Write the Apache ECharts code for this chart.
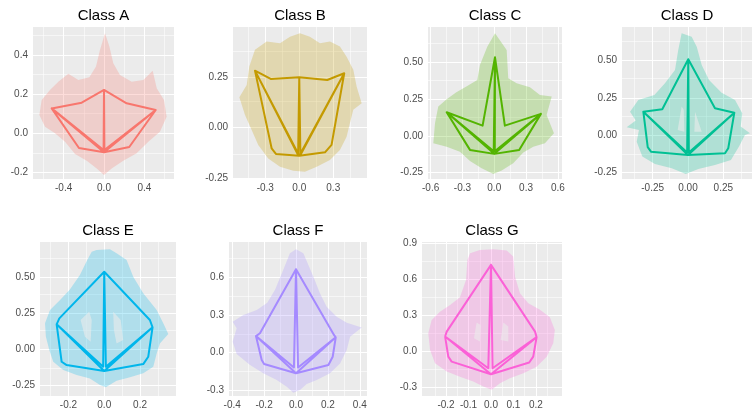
<!DOCTYPE html>
<html>
<head>
<meta charset="utf-8">
<script src="https://cdn.jsdelivr.net/npm/echarts@6/dist/echarts.min.js"></script>
<style>
  html, body { margin: 0; padding: 0; background: #ffffff; }
  #chart { width: 753px; height: 411px; }
</style>
</head>
<body>
<div id="chart"></div>
<script>
// Facet names and their hue colours
const classNames = ['Class A', 'Class B', 'Class C', 'Class D', 'Class E', 'Class F', 'Class G'];
const classColors = ['#F8766D', '#C49A00', '#53B400', '#00C094', '#00B6EB', '#A58AFF', '#FB61D7'];

// Mean leaf landmarks per class, in this order:
// left tip, left sinus, top tip, right sinus, right tip, right lower bend,
// right bottom, base, left bottom, left lower bend, left vein junction, right vein junction
const meanA = [[-0.518, 0.127], [-0.221, 0.156], [0, 0.221], [0.224, 0.153], [0.512, 0.119], [0.25, -0.07],
  [0.241, -0.08], [0, -0.097], [-0.248, -0.075], [-0.255, -0.066], [-0.004, -0.085], [0.004, -0.085]];
const meanB = [[-0.391, 0.282], [-0.252, 0.241], [0, 0.249], [0.247, 0.236], [0.397, 0.269], [0.285, -0.085],
  [0.227, -0.122], [0, -0.139], [-0.206, -0.13], [-0.244, -0.102], [-0.01, -0.136], [0.01, -0.136]];
const meanC = [[-0.449, 0.161], [-0.11, 0.07], [0.007, 0.535], [0.1, 0.07], [0.44, 0.15], [0.235, -0.095],
  [0.226, -0.102], [0, -0.122], [-0.229, -0.095], [-0.236, -0.088], [-0.005, -0.105], [0.005, -0.105]];
const meanD = [[-0.316, 0.158], [-0.182, 0.174], [0.002, 0.509], [0.191, 0.181], [0.328, 0.151], [0.285, -0.087],
  [0.262, -0.121], [0, -0.132], [-0.262, -0.11], [-0.285, -0.08], [-0.006, -0.115], [0.006, -0.115]];
const meanE = [[-0.266, 0.171], [-0.251, 0.212], [0, 0.535], [0.255, 0.201], [0.27, 0.15], [0.246, -0.053],
  [0.218, -0.104], [0, -0.152], [-0.21, -0.111], [-0.238, -0.088], [-0.006, -0.122], [0.009, -0.122]];
const meanF = [[-0.251, 0.133], [-0.226, 0.155], [0, 0.665], [0.239, 0.14], [0.249, 0.123], [0.23, -0.032],
  [0.203, -0.098], [0, -0.164], [-0.2, -0.09], [-0.215, -0.058], [-0.013, -0.117], [0.013, -0.117]];
const meanG = [[-0.204, 0.125], [-0.197, 0.166], [0, 0.721], [0.196, 0.166], [0.203, 0.12], [0.188, -0.042],
  [0.17, -0.091], [0, -0.188], [-0.175, -0.083], [-0.19, -0.042], [-0.012, -0.138], [0.007, -0.138]];

// Order in which the landmarks are joined: outline, then the doubled veins
const landmarkPath = [0, 1, 2, 3, 4, 5, 6, 7, 8, 9, 0, 10, 2, 11, 4, 7, 0];

// Envelope of all individual leaves per class
const spreadA = [[0.01, 0.51], [-0.04, 0.425], [-0.079, 0.34], [-0.145, 0.286], [-0.254, 0.272], [-0.353, 0.303],
  [-0.452, 0.263], [-0.535, 0.221], [-0.617, 0.17], [-0.64, 0.093], [-0.584, 0.034], [-0.485, 0.0], [-0.386, -0.043],
  [-0.287, -0.106], [-0.171, -0.14], [-0.072, -0.179], [0, -0.213], [0.076, -0.179], [0.191, -0.14], [0.323, -0.102],
  [0.439, -0.043], [0.554, 0.008], [0.62, 0.085], [0.594, 0.17], [0.522, 0.23], [0.482, 0.319], [0.389, 0.272],
  [0.274, 0.263], [0.158, 0.297], [0.092, 0.357], [0.053, 0.442]];
const spreadB = [[-0.391, 0.385], [-0.288, 0.426], [-0.17, 0.418], [-0.082, 0.45], [0.006, 0.467], [0.094, 0.45],
  [0.183, 0.418], [0.271, 0.426], [0.359, 0.401], [0.418, 0.351], [0.477, 0.286], [0.507, 0.203], [0.551, 0.121],
  [0.477, 0.088], [0.447, 0.022], [0.418, -0.045], [0.359, -0.11], [0.271, -0.16], [0.154, -0.193], [0.05, -0.218],
  [-0.053, -0.213], [-0.17, -0.193], [-0.274, -0.152], [-0.362, -0.086], [-0.42, -0.011], [-0.479, 0.063],
  [-0.529, 0.15], [-0.464, 0.211], [-0.441, 0.302]];
const spreadC = [[0.007, 0.699], [0.117, 0.585], [0.132, 0.392], [0.211, 0.358], [0.337, 0.331], [0.431, 0.279],
  [0.542, 0.268], [0.494, 0.143], [0.563, 0.018], [0.478, -0.05], [0.368, -0.073], [0.274, -0.113], [0.179, -0.186],
  [0.07, -0.236], [-0.009, -0.259], [-0.119, -0.22], [-0.229, -0.17], [-0.324, -0.107], [-0.449, -0.073],
  [-0.575, -0.05], [-0.559, 0.086], [-0.528, 0.2], [-0.449, 0.25], [-0.361, 0.295], [-0.255, 0.34], [-0.16, 0.381],
  [-0.135, 0.483], [-0.066, 0.607]];
const spreadD = [[-0.045, 0.683], [-0.069, 0.571], [-0.092, 0.437], [-0.163, 0.348], [-0.238, 0.27], [-0.352, 0.236],
  [-0.41, 0.158], [-0.37, 0.098], [-0.434, 0.054], [-0.347, 0.036], [-0.363, -0.043], [-0.323, -0.143],
  [-0.234, -0.192], [-0.115, -0.221], [-0.016, -0.259], [0.073, -0.226], [0.191, -0.199], [0.304, -0.165],
  [0.361, -0.076], [0.403, 0.002], [0.439, 0.013], [0.373, 0.058], [0.384, 0.147], [0.333, 0.236], [0.238, 0.285],
  [0.149, 0.37], [0.097, 0.471], [0.062, 0.593], [0.026, 0.66]];
const spreadE = [[-0.043, 0.686], [0.032, 0.69], [0.069, 0.663], [0.125, 0.616], [0.162, 0.501], [0.218, 0.386],
  [0.293, 0.27], [0.33, 0.178], [0.358, 0.104], [0.311, 0.039], [0.293, -0.03], [0.274, -0.122], [0.218, -0.168],
  [0.144, -0.196], [0.069, -0.219], [0.009, -0.265], [-0.024, -0.249], [-0.08, -0.203], [-0.154, -0.18],
  [-0.229, -0.145], [-0.285, -0.088], [-0.307, -0.007], [-0.326, 0.085], [-0.331, 0.178], [-0.303, 0.27],
  [-0.247, 0.339], [-0.192, 0.413], [-0.136, 0.512], [-0.095, 0.616], [-0.07, 0.674]];
const spreadF = [[0, 0.825], [0.046, 0.793], [0.109, 0.606], [0.15, 0.474], [0.192, 0.367], [0.255, 0.287],
  [0.318, 0.239], [0.412, 0.202], [0.339, 0.128], [0.318, 0.022], [0.276, -0.085], [0.213, -0.164], [0.13, -0.218],
  [0.067, -0.25], [0.025, -0.297], [-0.017, -0.319], [-0.058, -0.271], [-0.121, -0.218], [-0.205, -0.164],
  [-0.288, -0.098], [-0.372, -0.01], [-0.397, 0.088], [-0.372, 0.195], [-0.397, 0.247], [-0.33, 0.301],
  [-0.246, 0.341], [-0.18, 0.399], [-0.132, 0.5], [-0.08, 0.659], [-0.038, 0.793]];
const spreadG = [[-0.093, 0.818], [-0.049, 0.845], [0.01, 0.851], [0.07, 0.84], [0.099, 0.79], [0.107, 0.623],
  [0.129, 0.485], [0.166, 0.402], [0.218, 0.347], [0.262, 0.286], [0.284, 0.18], [0.277, 0.07], [0.248, -0.042],
  [0.203, -0.125], [0.144, -0.18], [0.084, -0.221], [0.04, -0.263], [0.003, -0.318], [-0.034, -0.291],
  [-0.079, -0.249], [-0.138, -0.208], [-0.197, -0.166], [-0.249, -0.096], [-0.271, 0.014], [-0.279, 0.153],
  [-0.264, 0.263], [-0.227, 0.332], [-0.182, 0.388], [-0.138, 0.452], [-0.111, 0.596], [-0.105, 0.762]];

// Thinly covered pockets between the veins
const gapsD = [[[-0.045, 0.192], [-0.03, 0.17], [-0.026, 0.024], [-0.073, 0.036]],
  [[0.05, 0.158], [0.097, 0.024], [0.045, 0.024]]];
const gapsE = [[[-0.084, 0.258], [-0.07, 0.201], [-0.076, 0.051], [-0.108, 0.085], [-0.132, 0.201]],
  [[0.05, 0.258], [0.092, 0.201], [0.106, 0.062], [0.069, 0.039], [0.054, 0.132]]];
const gapsG = [[[-0.064, 0.241], [-0.046, 0.222], [-0.049, 0.083], [-0.076, 0.111]],
  [[0.055, 0.241], [0.077, 0.208], [0.077, 0.083], [0.043, 0.097]]];

// Axis tick labels (major breaks) and minor breaks per panel
const xTickLabels = [
  ['-0.4', '0.0', '0.4'], ['-0.3', '0.0', '0.3'], ['-0.6', '-0.3', '0.0', '0.3', '0.6'],
  ['-0.25', '0.00', '0.25'], ['-0.2', '0.0', '0.2'], ['-0.4', '-0.2', '0.0', '0.2', '0.4'],
  ['-0.2', '-0.1', '0.0', '0.1', '0.2']];
const yTickLabels = [
  ['-0.2', '0.0', '0.2', '0.4'], ['-0.25', '0.00', '0.25'], ['-0.25', '0.00', '0.25', '0.50'],
  ['-0.25', '0.00', '0.25', '0.50'], ['-0.25', '0.00', '0.25', '0.50'], ['-0.3', '0.0', '0.3', '0.6'],
  ['-0.3', '0.0', '0.3', '0.6', '0.9']];
const xMinorBreaks = [
  [-0.6, -0.2, 0.2, 0.6], [-0.45, -0.15, 0.15, 0.45], [-0.45, -0.15, 0.15, 0.45],
  [-0.375, -0.125, 0.125, 0.375], [-0.3, -0.1, 0.1, 0.3], [-0.3, -0.1, 0.1, 0.3],
  [-0.25, -0.15, -0.05, 0.05, 0.15, 0.25]];
const yMinorBreaks = [
  [-0.1, 0.1, 0.3, 0.5], [-0.125, 0.125, 0.375], [-0.125, 0.125, 0.375, 0.625],
  [-0.125, 0.125, 0.375, 0.625], [-0.125, 0.125, 0.375, 0.625], [-0.15, 0.15, 0.45, 0.75],
  [-0.15, 0.15, 0.45, 0.75]];

// Visible data range of each panel
const xLimits = [[-0.703, 0.693], [-0.585, 0.598], [-0.625, 0.639], [-0.467, 0.453],
  [-0.359, 0.401], [-0.42, 0.445], [-0.307, 0.316]];
const yLimits = [[-0.233, 0.542], [-0.254, 0.498], [-0.293, 0.741], [-0.293, 0.725],
  [-0.325, 0.741], [-0.345, 0.883], [-0.369, 0.911]];

const means = [meanA, meanB, meanC, meanD, meanE, meanF, meanG];
const spreads = [spreadA, spreadB, spreadC, spreadD, spreadE, spreadF, spreadG];
const gaps = [[], [], [], gapsD, gapsE, [], gapsG];

// Panel rectangles in pixels: [left, top, width, height]
const panelRects = [
  [33, 27, 141, 152], [233, 27, 134, 152], [428, 27, 134, 152], [622, 27, 130, 152],
  [40, 242, 136, 154], [229, 242, 138, 154], [422, 242, 140, 154]];

const FONT = '"Liberation Sans", Arial, Helvetica, sans-serif';
const PANEL_BG = '#EBEBEB';

const grids = [], xAxes = [], yAxes = [], series = [], texts = [];

function labelLookup(labels) {
  return function (v) {
    for (const s of labels) if (Math.abs(parseFloat(s) - v) < 1e-9) return s;
    return '';
  };
}

classNames.forEach(function (name, i) {
  const r = panelRects[i];
  grids.push({
    left: r[0], top: r[1], width: r[2], height: r[3],
    show: true, backgroundColor: PANEL_BG, borderWidth: 0,
    containLabel: false, outerBoundsMode: 'none'
  });
  const xVals = xTickLabels[i].map(parseFloat);
  const yVals = yTickLabels[i].map(parseFloat);
  xAxes.push({
    type: 'value', gridIndex: i, min: xLimits[i][0], max: xLimits[i][1],
    axisLine: { show: false },
    axisTick: { show: true, customValues: xVals, length: 3, lineStyle: { color: '#333333', width: 1 } },
    axisLabel: {
      show: true, customValues: xVals, interval: 0, margin: 4,
      color: '#4D4D4D', fontSize: 10, fontFamily: FONT,
      formatter: labelLookup(xTickLabels[i])
    },
    splitLine: { show: false }
  });
  yAxes.push({
    type: 'value', gridIndex: i, min: yLimits[i][0], max: yLimits[i][1],
    axisLine: { show: false },
    axisTick: { show: true, customValues: yVals, length: 3, lineStyle: { color: '#333333', width: 1 } },
    axisLabel: {
      show: true, customValues: yVals, interval: 0, margin: 5,
      color: '#4D4D4D', fontSize: 10, fontFamily: FONT,
      formatter: labelLookup(yTickLabels[i])
    },
    splitLine: { show: false }
  });

  // panel grid lines (minor thin, major thicker), drawn as mark lines under everything else
  const minorStyle = { color: '#FFFFFF', width: 0.55, type: 'solid' };
  const majorStyle = { color: '#FFFFFF', width: 1.1, type: 'solid' };
  const gridLines = []
    .concat(xMinorBreaks[i].map(v => ({ xAxis: v, lineStyle: minorStyle })))
    .concat(yMinorBreaks[i].map(v => ({ yAxis: v, lineStyle: minorStyle })))
    .concat(xVals.map(v => ({ xAxis: v, lineStyle: majorStyle })))
    .concat(yVals.map(v => ({ yAxis: v, lineStyle: majorStyle })));
  series.push({
    type: 'line', xAxisIndex: i, yAxisIndex: i, silent: true, animation: false, z: 1,
    data: [], showSymbol: false,
    markLine: {
      silent: true, animation: false, symbol: ['none', 'none'], z: 1,
      label: { show: false }, emphasis: { disabled: true },
      lineStyle: majorStyle,
      data: gridLines
    }
  });

  // spread of the individual leaves
  series.push({
    type: 'custom', xAxisIndex: i, yAxisIndex: i, silent: true, animation: false, z: 2,
    data: [[0, 0]],
    renderItem: function (params, api) {
      const children = [{
        type: 'polygon',
        shape: { points: spreads[i].map(p => api.coord(p)) },
        style: { fill: classColors[i], opacity: 0.25 }
      }];
      gaps[i].forEach(function (g) {
        children.push({
          type: 'polygon',
          shape: { points: g.map(p => api.coord(p)) },
          style: { fill: PANEL_BG, opacity: 0.6 }
        });
      });
      return { type: 'group', children: children };
    }
  });

  // mean shape
  series.push({
    type: 'line', xAxisIndex: i, yAxisIndex: i, silent: true, animation: false, z: 3,
    data: landmarkPath.map(k => means[i][k]),
    showSymbol: false, symbol: 'none', smooth: false,
    lineStyle: { color: classColors[i], width: 2, join: 'round' }
  });

  texts.push({
    type: 'text', x: r[0] + r[2] / 2, y: i < 4 ? 15.5 : 231,
    style: {
      text: name, fill: '#000000', fontSize: 15, fontFamily: FONT,
      textAlign: 'center', textVerticalAlign: 'middle'
    }
  });
});

const chart = echarts.init(document.getElementById('chart'), null, { renderer: 'canvas' });
chart.setOption({
  backgroundColor: '#FFFFFF',
  animation: false,
  grid: grids,
  xAxis: xAxes,
  yAxis: yAxes,
  series: series,
  graphic: texts
});
</script>
</body>
</html>
